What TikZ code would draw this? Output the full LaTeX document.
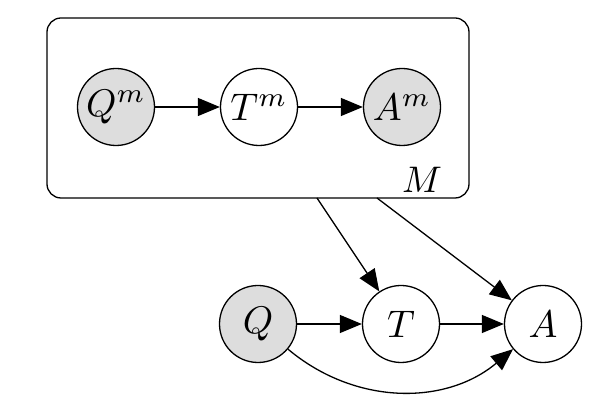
\documentclass[tikz,border=0pt]{standalone}
\usepackage{graphicx}
\usetikzlibrary{arrows.meta}
\definecolor{obsfill}{RGB}{221,221,221}
\newcommand{\vlab}[1]{\scalebox{3.85}{$#1$}}
\tikzset{
  var/.style={circle, draw, line width=1.3pt, minimum size=77pt, inner sep=0pt},
  obs/.style={var, fill=obsfill},
  lat/.style={var, fill=white},
  platebox/.style={draw, line width=1.3pt, rounded corners=14pt, minimum width=422pt, minimum height=180pt, inner sep=0pt},
  edge/.style={line width=1.3pt, -{Triangle[length=22pt,width=18pt]}},
  lbl/.style={inner sep=0pt}
}
\begin{document}
\begin{tikzpicture}[x=1pt,y=1pt]
\useasboundingbox (0,0) rectangle (614,420);
\fill[white] (0,0) rectangle (614,420);
\node[platebox] (plate) at (258,312) {};
\node[lbl] (mlabel) at (422,240) {\scalebox{3.7}{$M$}};
\node[obs] (Qm) at (116,313) {\vlab{Q^m}};
\node[lat] (Tm) at (259,313) {\vlab{T^m}};
\node[obs] (Am) at (402,313) {\vlab{A^m}};
\node[obs] (Q) at (258,96) {\vlab{Q}};
\node[lat] (T) at (401,96) {\vlab{T}};
\node[lat] (A) at (543,96) {\vlab{A}};
\coordinate (p1) at (317,222);
\coordinate (p2) at (377,222);
\draw[edge] (Qm) -- (Tm);
\draw[edge] (Tm) -- (Am);
\draw[edge] (Q) -- (T);
\draw[edge] (T) -- (A);
\draw[edge] (p1) -- (T);
\draw[edge] (p2) -- (A);
\draw[edge] (Q) to[out=-40,in=-140] (A);
\end{tikzpicture}
\end{document}
